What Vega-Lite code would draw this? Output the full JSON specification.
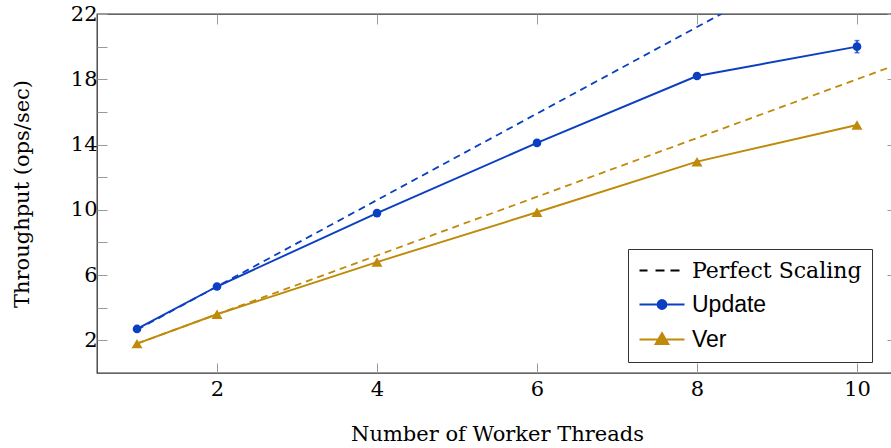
{
  "$schema": "https://vega.github.io/schema/vega-lite/v6.json",
  "width": 800,
  "height": 359,
  "autosize": {"type": "none"},
  "padding": {"left": 97, "top": 14, "right": -6, "bottom": 75},
  "datasets": {
    "main": [
      {"threads": 1, "ops": 2.7, "series": "Update"},
      {"threads": 2, "ops": 5.3, "series": "Update"},
      {"threads": 4, "ops": 9.8, "series": "Update"},
      {"threads": 6, "ops": 14.1, "series": "Update"},
      {"threads": 8, "ops": 18.2, "series": "Update"},
      {"threads": 10, "ops": 20.0, "series": "Update"},
      {"threads": 1, "ops": 1.8, "series": "Ver"},
      {"threads": 2, "ops": 3.6, "series": "Ver"},
      {"threads": 4, "ops": 6.8, "series": "Ver"},
      {"threads": 6, "ops": 9.85, "series": "Ver"},
      {"threads": 8, "ops": 12.95, "series": "Ver"},
      {"threads": 10, "ops": 15.2, "series": "Ver"}
    ],
    "perfect": [
      {"threads": 1, "ops": 2.65, "series": "Update"},
      {"threads": 11, "ops": 29.15, "series": "Update"},
      {"threads": 1, "ops": 1.8, "series": "Ver"},
      {"threads": 11, "ops": 19.8, "series": "Ver"}
    ],
    "errors": [
      {"threads": 10, "lo": 19.63, "hi": 20.37, "series": "Update"}
    ]
  },
  "layer": [
    {
      "data": {"name": "perfect"},
      "mark": {"type": "line", "clip": true, "strokeWidth": 1.8, "strokeDash": [7, 5]},
      "encoding": {
        "x": {
          "field": "threads", "type": "quantitative",
          "scale": {"domain": [0.5, 10.5], "nice": false, "zero": false},
          "axis": {
            "orient": "bottom", "values": [2, 4, 6, 8, 10], "title": "Number of Worker Threads",
            "labelPadding": 15, "titlePadding": 24, "domain": false
          }
        },
        "y": {
          "field": "ops", "type": "quantitative",
          "scale": {"domain": [0, 22], "nice": false, "zero": false},
          "axis": {
            "orient": "left", "values": [2, 4, 6, 8, 10, 12, 14, 16, 18, 20, 22],
            "labelExpr": "(datum.value - 2) % 4 == 0 ? datum.label : ''",
            "title": "Throughput (ops/sec)", "labelPadding": 10, "titlePadding": 38, "domain": false
          }
        },
        "color": {
          "field": "series", "type": "nominal",
          "scale": {"domain": ["Perfect Scaling", "Update", "Ver"], "range": ["#000000", "#0a3fc2", "#bf8a0a"]},
          "legend": {
            "orient": "none", "legendX": 531, "legendY": 235, "title": null,
            "strokeColor": "#333333", "fillColor": "#ffffff", "padding": 10,
            "symbolSize": 400, "labelOffset": 31, "rowPadding": 11, "labelLimit": 0,
            "labelFontSize": 22, "labelColor": "#000000",
            "encode": {
              "symbols": {
                "update": {
                  "shape": {"signal": "datum.value === 'Perfect Scaling' ? 'M-1,0H-0.2M0.6,0H1.5M2.1,0H3' : datum.value === 'Update' ? 'M-1,0H3.5M0.8,0A0.45,0.45 0 1,0 1.7,0A0.45,0.45 0 1,0 0.8,0Z' : 'M-1,0H3.5M1.25,-0.65L1.9,0.45L0.6,0.45Z'"},
                  "stroke": {"signal": "datum.value === 'Perfect Scaling' ? '#000000' : datum.value === 'Update' ? '#0a3fc2' : '#bf8a0a'"},
                  "fill": {"signal": "datum.value === 'Perfect Scaling' ? 'transparent' : datum.value === 'Update' ? '#0a3fc2' : '#bf8a0a'"},
                  "strokeWidth": {"value": 1.8},
                  "strokeDash": {"value": []},
                  "opacity": {"value": 1}
                }
              },
              "labels": {
                "update": {
                  "font": {"signal": "datum.value === 'Perfect Scaling' ? 'DejaVu Serif' : 'Liberation Sans'"},
                  "fontSize": {"signal": "datum.value === 'Perfect Scaling' ? 22 : 23"}
                }
              }
            }
          }
        }
      }
    },
    {
      "data": {"name": "main"},
      "mark": {"type": "line", "strokeWidth": 1.9},
      "encoding": {
        "x": {"field": "threads", "type": "quantitative",
          "axis": {"orient": "top", "values": [2, 4, 6, 8, 10], "labels": false, "title": null, "domain": false}},
        "y": {"field": "ops", "type": "quantitative",
          "axis": {"orient": "right", "values": [2, 6, 10, 14, 18, 22], "labels": false, "title": null, "domain": false}},
        "color": {"field": "series", "type": "nominal"}
      }
    },
    {
      "data": {"name": "errors"},
      "mark": {"type": "errorbar", "ticks": true, "color": "#0a3fc2", "thickness": 1.5},
      "encoding": {
        "x": {"field": "threads", "type": "quantitative", "axis": null},
        "y": {"field": "lo", "type": "quantitative", "axis": null, "title": null},
        "y2": {"field": "hi"}
      }
    },
    {
      "data": {"name": "main"},
      "mark": {"type": "point", "filled": true, "opacity": 1},
      "encoding": {
        "x": {"field": "threads", "type": "quantitative", "axis": null},
        "y": {"field": "ops", "type": "quantitative", "axis": null},
        "color": {"field": "series", "type": "nominal"},
        "shape": {"field": "series", "type": "nominal",
          "scale": {"domain": ["Update", "Ver"], "range": ["circle", "triangle-up"]}, "legend": null},
        "size": {"field": "series", "type": "nominal",
          "scale": {"domain": ["Update", "Ver"], "range": [75, 120]}, "legend": null}
      }
    }
  ],
  "resolve": {"axis": {"x": "independent", "y": "independent"}},
  "config": {
    "view": {"stroke": "#333333", "strokeWidth": 1.3},
    "axis": {
      "grid": false,
      "tickSize": -10,
      "tickColor": "#9a9a9a",
      "tickWidth": 1,
      "labelFont": "DejaVu Serif",
      "labelFontSize": 21,
      "labelColor": "#000000",
      "titleFont": "DejaVu Serif",
      "titleFontSize": 21,
      "titleFontWeight": "normal",
      "titleColor": "#000000"
    },
    "legend": {"labelFont": "DejaVu Serif"}
  }
}
